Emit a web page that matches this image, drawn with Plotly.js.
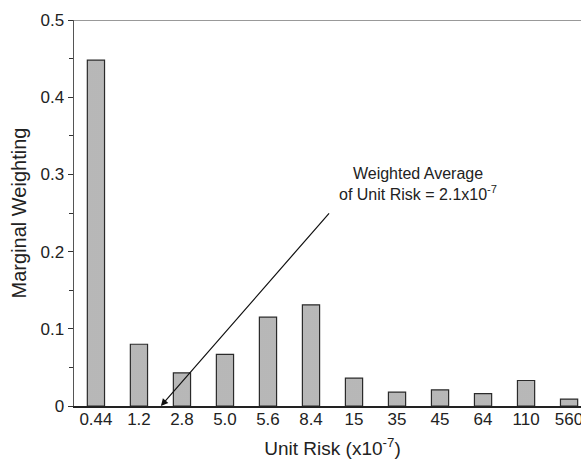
<!DOCTYPE html>
<html>
<head>
<meta charset="utf-8">
<script src="https://cdn.plot.ly/plotly-3.0.1.min.js"></script>
<style>
html,body{margin:0;padding:0;overflow:hidden;background:#fff;}
#chart{width:600px;height:459px;}
</style>
</head>
<body>
<div id="chart"></div>
<script>
var categories = ["0.44","1.2","2.8","5.0","5.6","8.4","15","35","45","64","110","560"];
var weights = [0.448,0.080,0.043,0.067,0.115,0.131,0.036,0.018,0.021,0.016,0.033,0.009];
var yTickVals = [0,0.1,0.2,0.3,0.4,0.5];
var yTickText = ["0","0.1","0.2","0.3","0.4","0.5"];
var arrowTip = {x: 1.51, y: 0};
var arrowTail = {x: 5.49, y: 0.254};
var noteText = "Weighted Average<br>of Unit Risk = 2.1x10<sup>-7</sup>";

var trace = {
  type: "bar",
  x: categories,
  y: weights,
  marker: {
    color: "#c2c2c2",
    line: {color: "#2a2a2a", width: 1.2},
    pattern: {shape: ".", fgcolor: "#8a8a8a", bgcolor: "#d0d0d0", size: 2, solidity: 0.35}
  },
  hoverinfo: "skip"
};

var layout = {
  width: 600,
  height: 459,
  margin: {l: 74, r: 9, t: 20, b: 53},
  paper_bgcolor: "#fff",
  plot_bgcolor: "#fff",
  bargap: 0.6,
  showlegend: false,
  font: {family: "Liberation Sans, Arial, sans-serif", color: "#222"},
  xaxis: {
    type: "category",
    range: [-0.51, 11.51],
    showline: true,
    linecolor: "#222",
    linewidth: 1.5,
    ticks: "",
    ticklabelstandoff: -3,
    tickfont: {size: 17, color: "#222"},
    showgrid: false,
    zeroline: false,
    mirror: false,
    title: {text: "Unit Risk (x10<sup>-7</sup>)", font: {size: 19, color: "#222"}, standoff: 14}
  },
  yaxis: {
    range: [0, 0.5],
    tickvals: yTickVals,
    ticktext: yTickText,
    ticks: "outside",
    ticklen: 5,
    tickcolor: "#333",
    tickfont: {size: 17, color: "#222"},
    showline: true,
    linecolor: "#555",
    linewidth: 1.5,
    showgrid: false,
    zeroline: false,
    minor: {dtick: 0.05, ticks: "outside", ticklen: 4, tickcolor: "#333"},
    title: {text: "Marginal Weighting", font: {size: 20, color: "#222"}, standoff: 8}
  },
  shapes: [
    {type: "line", xref: "paper", yref: "y", x0: 0, x1: 1, y0: 0.5, y1: 0.5,
     line: {color: "#777", width: 1.5}}
  ],
  annotations: [
    {x: arrowTip.x, y: arrowTip.y, xref: "x", yref: "y",
     ax: arrowTail.x, ay: arrowTail.y, axref: "x", ayref: "y",
     text: " ", showarrow: true, arrowhead: 2, arrowsize: 1.2, arrowwidth: 1.2, arrowcolor: "#111"},
    {x: 7.49, y: 0.2876, xref: "x", yref: "y", text: noteText, showarrow: false,
     align: "center", font: {size: 16, color: "#222"}}
  ]
};

Plotly.newPlot("chart", [trace], layout, {staticPlot: true, displayModeBar: false});
</script>
</body>
</html>
